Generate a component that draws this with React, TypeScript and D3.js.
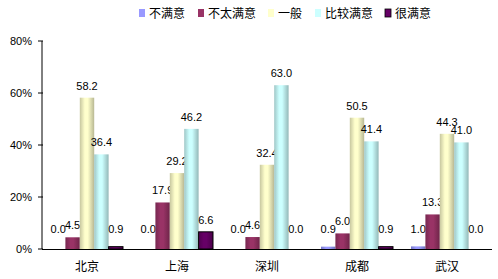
import React from "react";
import * as d3 from "d3";

const categories = ["北京", "上海", "深圳", "成都", "武汉"];
const seriesNames = ["不满意", "不太满意", "一般", "比较满意", "很满意"];
const seriesColors = ["#9999ff", "#993366", "#ffffcc", "#ccffff", "#660066"];
const values: number[][] = [
  [0.0, 0.0, 0.0, 0.9, 1.0],
  [4.5, 17.9, 4.6, 6.0, 13.3],
  [58.2, 29.2, 32.4, 50.5, 44.3],
  [36.4, 46.2, 63.0, 41.4, 41.0],
  [0.9, 6.6, 0.0, 0.9, 0.0],
];
const yTicks = [0, 20, 40, 60, 80];

const W = 498;
const H = 279;
const X0 = 42;
const X1 = 492;
const Y0 = 249;
const YTOP = 41;

export default function App() {
  const x = d3.scaleBand<string>().domain(categories).range([X0, X1]).padding(0);
  const inner = d3
    .scaleBand<string>()
    .domain(seriesNames)
    .range([x.bandwidth() * 0.1, x.bandwidth() * 0.9])
    .padding(0);
  const y = d3.scaleLinear().domain([0, 80]).range([Y0, YTOP]);
  const labelFont = "'Liberation Sans', Arial, sans-serif";
  const cjkFont = "'Noto Sans CJK SC', sans-serif";

  const shade = (c: string, k: number) => {
    const col = d3.rgb(c);
    return d3.rgb(col.r * k, col.g * k, col.b * k).formatHex();
  };

  return (
    <svg width={W} height={H} style={{ position: "absolute", left: 0, top: 0, background: "#fff" }}>
      <defs>
        {seriesColors.map((c, i) => (
          <linearGradient key={i} id={`g${i}`} x1="0" x2="1" y1="0" y2="0">
            <stop offset="0%" stopColor={shade(c, 0.78)} />
            <stop offset="35%" stopColor={c} />
            <stop offset="55%" stopColor={c} />
            <stop offset="100%" stopColor={shade(c, 0.72)} />
          </linearGradient>
        ))}
      </defs>

      {/* legend */}
      {seriesNames.map((s, i) => {
        const lx = [139, 198, 268, 315, 385][i];
        return (
          <g key={s}>
            <rect x={lx} y={9} width={6} height={8} fill={seriesColors[i]} stroke={i === 4 ? "#000" : "none"} strokeWidth={0.8} />
            <text x={lx + 10} y={18} fontSize={12} fontFamily={cjkFont} fill="#000">
              {s}
            </text>
          </g>
        );
      })}

      {/* y axis */}
      <line x1={X0} x2={X0} y1={YTOP} y2={Y0} stroke="#000" />
      {yTicks.map((t) => (
        <g key={t}>
          <line x1={X0 - 4} x2={X0 + 1} y1={y(t)} y2={y(t)} stroke="#000" />
          <text x={32} y={y(t) + 4} fontSize={11} fontFamily={labelFont} textAnchor="end" fill="#000">
            {t}%
          </text>
        </g>
      ))}

      {/* bars */}
      {categories.map((c, ci) => (
        <g key={c}>
          {seriesNames.map((s, si) => {
            const v = values[si][ci];
            const bx = (x(c) as number) + (inner(s) as number);
            const bw = inner.bandwidth();
            const top = y(v);
            return (
              <g key={s}>
                {v > 0 && (
                  <rect
                    x={bx}
                    y={top}
                    width={bw}
                    height={Y0 - top}
                    fill={`url(#g${si})`}
                    stroke={si === 4 ? "#000" : "none"}
                    strokeWidth={si === 4 ? 1 : 0}
                  />
                )}
                <text
                  x={bx + bw / 2}
                  y={Math.min(top - 8, Y0 - 16)}
                  fontSize={11}
                  fontFamily={labelFont}
                  textAnchor="middle"
                  fill="#000"
                >
                  {v.toFixed(1)}
                </text>
              </g>
            );
          })}
          <text
            x={(x(c) as number) + x.bandwidth() / 2}
            y={271}
            fontSize={12}
            fontFamily={cjkFont}
            textAnchor="middle"
            fill="#000"
          >
            {c}
          </text>
        </g>
      ))}

      {/* x axis */}
      <line x1={X0} x2={X1} y1={Y0 + 0.5} y2={Y0 + 0.5} stroke="#000" />
    </svg>
  );
}
